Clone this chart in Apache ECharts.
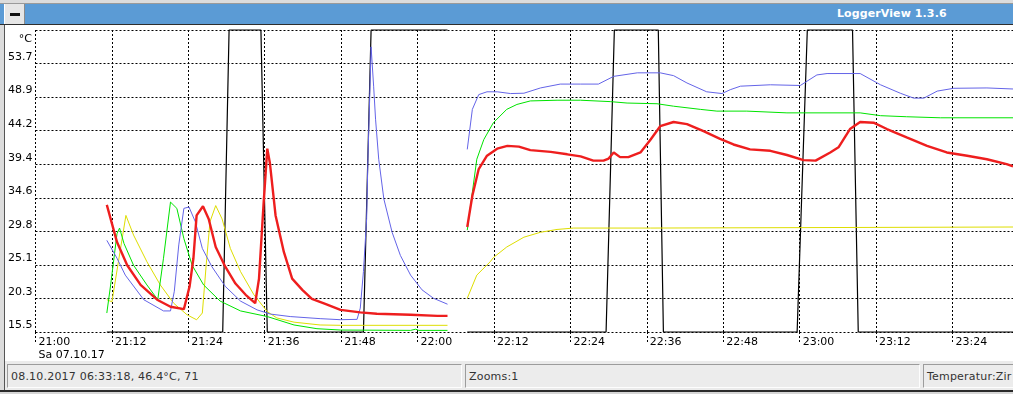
<!DOCTYPE html>
<html><head><meta charset="utf-8">
<script src="https://cdn.jsdelivr.net/npm/echarts@6/dist/echarts.min.js"></script>
<style>
html,body{margin:0;padding:0;width:1013px;height:394px;overflow:hidden;background:#fff;font-family:"DejaVu Sans",sans-serif;}
.abs{position:absolute;box-sizing:border-box;}
#frameTop{left:0;top:0;width:1013px;height:4px;background:#dcdcdc;border-bottom:1px solid #9a9a9a;}
#titlebar{left:0;top:4px;width:1013px;height:21px;background:#5b9bd5;border-bottom:1px solid #2e2e2e;}
#btn{left:4px;top:4px;width:21px;height:20px;background:#e6e6e6;border-right:1px solid #8a8a8a;border-left:1px solid #fff;}
#btn span{position:absolute;left:5px;top:9px;width:10px;height:3px;background:#111;}
#title{left:837px;top:7px;color:#fff;font-weight:bold;font-size:11px;white-space:nowrap;letter-spacing:0.1px;}
#leftframe{left:0;top:25px;width:5px;height:366px;background:#dcdcdc;border-right:1px solid #555;}
#chart{left:5px;top:25px;width:1008px;height:337px;background:#fff;}
#status{left:5px;top:361px;width:1008px;height:29px;background:#ebebeb;}
.panel{top:364px;height:24px;border-top:1px solid #9c9c9c;border-left:1px solid #9c9c9c;border-bottom:1px solid #fdfdfd;border-right:1px solid #fdfdfd;background:#ececec;font-size:11px;color:#333;padding:5px 0 0 3px;white-space:nowrap;overflow:hidden;letter-spacing:0.2px;}
#bottom{left:0;top:390px;width:1013px;height:4px;background:#d6d6d6;border-top:2px solid #2a2a2a;}
</style></head>
<body>
<div class="abs" id="frameTop"></div>
<div class="abs" id="titlebar"></div>
<div class="abs" id="btn"><span></span></div>
<div class="abs" id="title">LoggerView 1.3.6</div>
<div class="abs" id="chart"></div>
<div class="abs" id="leftframe"></div>
<div class="abs" id="status"></div>
<div class="abs panel" style="left:7px;width:455px;">08.10.2017 06:33:18, 46.4°C, 71</div>
<div class="abs panel" style="left:465px;width:455px;">Zooms:1</div>
<div class="abs panel" style="left:923px;width:100px;">Temperatur:Zir</div>
<div class="abs" id="bottom"></div>
<script>
// time values are minutes after 21:00 on Sa 07.10.17
const dateLabel = 'Sa 07.10.17';
const yTickLabels = ['15.5','20.3','25.1','29.8','34.6','39.4','44.2','48.9','53.7'];
const yUnit = '°C';
const tempMin = 15.5, tempMax = 58.5;

const redSeries = [[11.2,33.6],[12.8,28.3],[14.4,25.0],[16.5,22.2],[19.1,20.1],[21.2,19.1],[23.3,18.75],[24.2,22.0],[24.8,26.0],[25.3,32.1],[26.3,33.4],[27.2,31.6],[28.3,27.6],[29.8,24.8],[31.4,22.4],[33.0,20.8],[34.5,19.6],[35.1,23.1],[35.8,33.5],[36.4,41.6],[36.8,39.6],[37.7,32.1],[39.0,26.9],[40.3,23.1],[41.9,21.5],[43.4,20.2],[45.5,19.5],[47.9,18.65],[51.0,18.3],[53.6,18.1],[58.9,17.95],[63.1,17.8],[64.7,17.8],[66,'-'],
[67.8,30.45],[68.6,34.9],[69.6,38.7],[70.9,40.6],[72.5,41.6],[74.1,42.0],[75.9,41.9],[77.7,41.4],[80.9,41.15],[83.5,40.8],[85.6,40.5],[87.6,39.9],[89.2,39.9],[90.0,40.2],[90.8,41.06],[91.8,40.4],[93.1,40.4],[95.0,41.06],[96.6,42.9],[98.1,44.8],[100.2,45.4],[102.3,45.1],[104.9,44.1],[107.5,43.0],[109.6,42.2],[112.2,41.5],[115.4,41.3],[118.0,40.7],[120.6,39.97],[122.5,39.9],[124.8,41.06],[126.1,41.8],[127.9,44.4],[129.5,45.4],[131.6,45.3],[133.7,44.4],[136.8,43.2],[140.0,42.0],[143.1,41.06],[146.3,40.6],[149.4,40.1],[152.5,39.4],[153.5,39.1]];

const blueSeries = [[11.2,28.55],[12.8,26.0],[14.1,23.6],[17.0,20.1],[20.1,18.5],[21.2,18.5],[21.8,21.3],[22.5,27.9],[23.3,33.1],[24.1,33.3],[25.1,31.2],[26.2,27.4],[27.7,24.8],[29.8,22.0],[32.2,19.9],[34.8,18.65],[36.9,18.05],[40.0,17.7],[44.7,17.4],[47.9,17.25],[50.5,17.3],[51.0,18.9],[51.5,24.1],[52.0,31.6],[52.2,40.1],[52.5,49.5],[52.7,56.1],[53.1,50.5],[53.4,45.8],[53.9,40.1],[54.7,34.45],[56.0,29.7],[57.3,26.4],[58.9,23.6],[60.7,21.5],[62.5,20.3],[64.7,19.46],[66,'-'],
[67.8,41.5],[68.6,47.2],[69.6,49.3],[70.9,49.7],[72.5,49.7],[74.6,49.45],[76.7,49.5],[79.3,50.25],[82.4,50.8],[85.6,50.8],[88.4,50.8],[90.8,51.9],[94.5,52.4],[98.1,52.4],[100.2,52.0],[102.3,50.96],[105.4,49.7],[107.8,49.45],[109.1,50.0],[110.7,50.5],[115.4,50.7],[120.1,50.6],[122.7,52.1],[124.3,52.3],[129.5,52.3],[132.7,50.7],[135.8,49.5],[137.9,48.8],[139.5,48.8],[141.6,49.8],[144.2,50.2],[149.4,50.25],[153.5,50.1]];

const greenSeries = [[11.2,18.2],[11.8,22.2],[12.8,29.5],[13.2,30.3],[13.9,28.1],[15.4,25.0],[17.5,22.2],[19.2,20.1],[20.1,26.0],[21.2,34.0],[22.2,33.1],[23.3,28.8],[24.6,25.0],[26.4,22.2],[29.0,19.9],[32.2,18.5],[36.4,17.7],[40.6,16.5],[44.2,15.97],[47.9,15.78],[58.9,15.73],[59.7,15.9],[60.2,15.73],[64.7,15.73],[66,'-'],
[67.8,30.0],[68.6,35.4],[69.3,40.1],[70.4,42.9],[71.9,45.3],[74.0,47.2],[75.6,47.9],[77.7,48.4],[81.9,48.5],[85.6,48.5],[90.3,48.3],[92.9,48.1],[97.6,48.0],[100.2,47.65],[104.4,47.2],[107.0,46.95],[111.7,46.95],[118.0,46.7],[129.5,46.7],[132.7,46.3],[136.8,46.15],[142.1,46.0],[153.5,46.0]];

const yellowSeries = [[11.2,20.1],[12.0,19.8],[14.2,32.1],[15.4,29.3],[17.5,25.5],[19.6,22.2],[21.7,19.6],[23.8,17.95],[25.3,17.24],[26.2,18.2],[26.8,25.0],[27.4,31.2],[28.3,33.5],[29.3,31.6],[30.6,27.4],[32.2,24.1],[34.3,20.8],[36.4,18.4],[37.9,17.5],[40.6,16.9],[44.7,16.5],[47.9,16.45],[64.7,16.45],[66,'-'],
[67.8,20.3],[69.3,23.6],[71.4,25.5],[71.9,26.1],[74.0,27.6],[76.7,29.0],[79.3,29.7],[81.9,30.1],[84.5,30.3],[96.6,30.3],[96.9,30.45],[153.5,30.45]];

// heater state 0 = off, 1 = on
const heaterSeries = [[11.2,0],[29.4,0],[30.4,1],[35.4,1],[36.4,0],[51.5,0],[52.7,1],[64.7,1],[66,'-'],[67.8,0],[89.6,0],[90.9,1],[97.8,1],[98.6,0],[119.6,0],[121.2,1],[128.3,1],[129.2,0],[153.5,0]];

const xMax = 153.5, xInterval = 12;

function fmtTime(m){
  const h = 21 + Math.floor(m/60), mm = Math.round(m%60);
  return h + ':' + (mm<10?'0':'') + mm;
}

const chart = echarts.init(document.getElementById('chart'), null, {renderer:'canvas'});
const dotted = {color:'#000', width:1, type:[2,2]};
const font = {fontFamily:'DejaVu Sans', fontSize:11, color:'#000'};
function line(data, color, width, yi, z){
  return {type:'line', data:data, yAxisIndex:yi, showSymbol:false, symbol:'none', connectNulls:false,
    clip:false, z:z, animation:false, lineStyle:{color:color, width:width}};
}
chart.setOption({
  animation:false,
  backgroundColor:'#fff',
  grid:{left:30, top:5, right:0, bottom:28, containLabel:false},
  xAxis:{type:'value', min:0, max:xMax, interval:xInterval,
    axisLine:{show:false},
    axisTick:{show:true, length:11, lineStyle:dotted},
    splitLine:{show:true, lineStyle:dotted},
    axisLabel:Object.assign({}, font, {align:'left', margin:4, lineHeight:13, padding:[0,0,0,3], showMaxLabel:false,
      formatter:function(v){
        if (Math.abs(v % xInterval) > 1e-6) return '';
        return v === 0 ? fmtTime(v) + '\n' + dateLabel : fmtTime(v);
      }})
  },
  yAxis:[
    {type:'value', min:0, max:yTickLabels.length, interval:1,
      axisLine:{show:false}, axisTick:{show:false},
      splitLine:{show:true, lineStyle:dotted},
      axisLabel:Object.assign({}, font, {margin:3, verticalAlign:'bottom', lineHeight:13,
        formatter:function(v){ return yTickLabels[v] !== undefined ? yTickLabels[v] : ''; }})
    },
    {type:'value', min:tempMin, max:tempMax, show:false},
    {type:'value', min:0, max:1, show:false}
  ],
  graphic:[{type:'text', right:1008-27, top:9, style:{text:yUnit, fill:'#000', font:'11px "DejaVu Sans"'}}],
  series:[
    line(heaterSeries, '#000000', 1.2, 2, 2),
    line(yellowSeries, '#dede00', 1, 1, 3),
    line(greenSeries, '#00e400', 1, 1, 4),
    line(blueSeries, '#6464e8', 1, 1, 5),
    line(redSeries, '#ee1e1e', 2.4, 1, 6)
  ]
});
</script>
</body></html>
